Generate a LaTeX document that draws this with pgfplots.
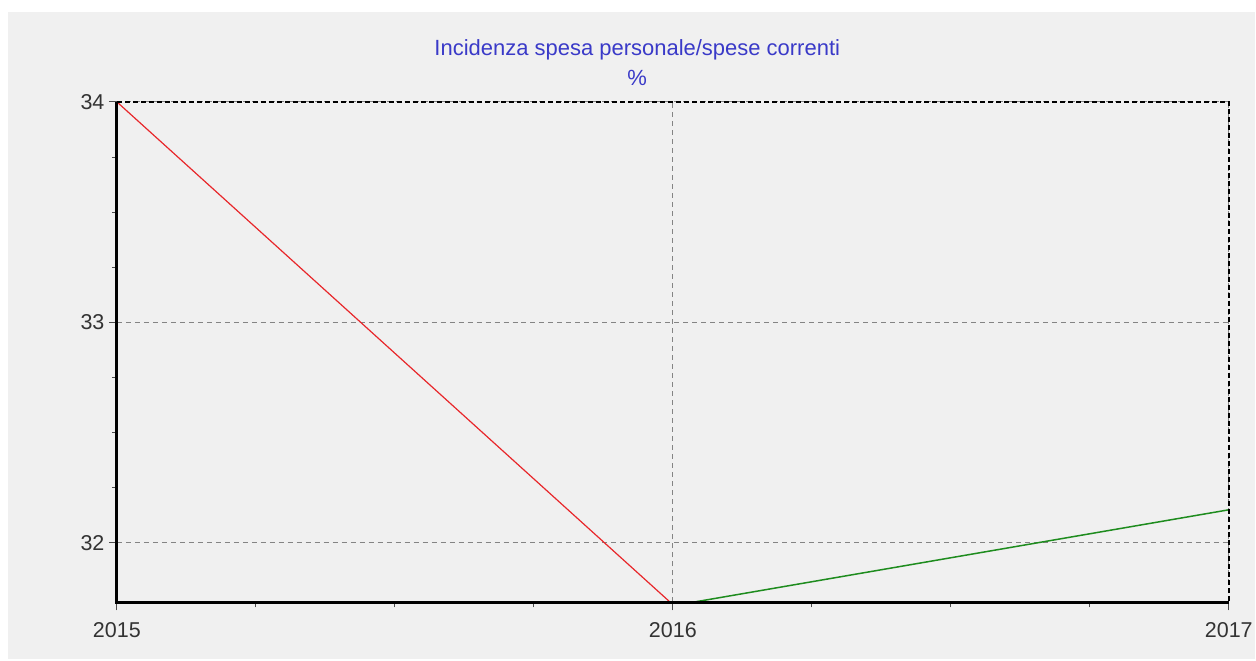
\documentclass[border=0pt]{standalone}
\usepackage{pgfplots}
\pgfplotsset{compat=1.18}
\usepackage{fontspec}
\setmainfont{Liberation Sans}
\definecolor{bg}{HTML}{F0F0F0}
\definecolor{gridc}{HTML}{848484}
\definecolor{titlec}{HTML}{3A3AC8}
\definecolor{redl}{HTML}{E8262A}
\definecolor{greenl}{HTML}{1E8C1E}
\begin{document}
\begin{tikzpicture}
\fill[white] (0,0) rectangle (1256pt,661pt);
\fill[bg] (8pt,1pt) rectangle (1256pt,649pt);
\begin{axis}[
 at={(117pt,58pt)}, anchor=south west,
 scale only axis, width=1113pt, height=501pt,
 xmin=2015, xmax=2017, ymin=31.73, ymax=34,
 xtick={2015,2016,2017}, ytick={32,33,34},
 minor x tick num=3, minor y tick num=3,
 tick pos=left, tick align=outside,
 major tick length=8pt, minor tick length=5pt,
 every tick/.style={black!70, line width=1pt},
 axis line style={draw=none},
 grid=major,
 major grid style={gridc, line width=1.2pt, dash pattern=on 5pt off 4pt},
 /pgf/number format/set thousands separator={},
 /pgf/number format/assume math mode=true,
 ticklabel style={font=\fontsize{21.5}{24}\selectfont, text=black!80},
 xticklabel style={yshift=-9pt},
 yticklabel style={xshift=-1pt},
 clip mode=individual,
]
\addplot[redl, line width=1.2pt] coordinates {(2015,34.0) (2016,31.72)};
\addplot[greenl, line width=1.5pt] coordinates {(2016,31.715) (2017,32.15)};
\draw[black, line width=1.5pt, dash pattern=on 5pt off 3pt] (rel axis cs:0,1) -- (rel axis cs:1,1) -- (rel axis cs:1,0);
\draw[black, line width=3pt] (rel axis cs:0,1) -- (rel axis cs:0,0) -- (rel axis cs:1,0);
\node[anchor=base, text=titlec, font=\fontsize{22}{30}\selectfont] at (rel axis cs:0.468,1.0918) {Incidenza spesa personale/spese correnti};
\node[anchor=base, text=titlec, font=\fontsize{22}{30}\selectfont] at (rel axis cs:0.468,1.0319) {\%};
\end{axis}
\end{tikzpicture}
\end{document}
